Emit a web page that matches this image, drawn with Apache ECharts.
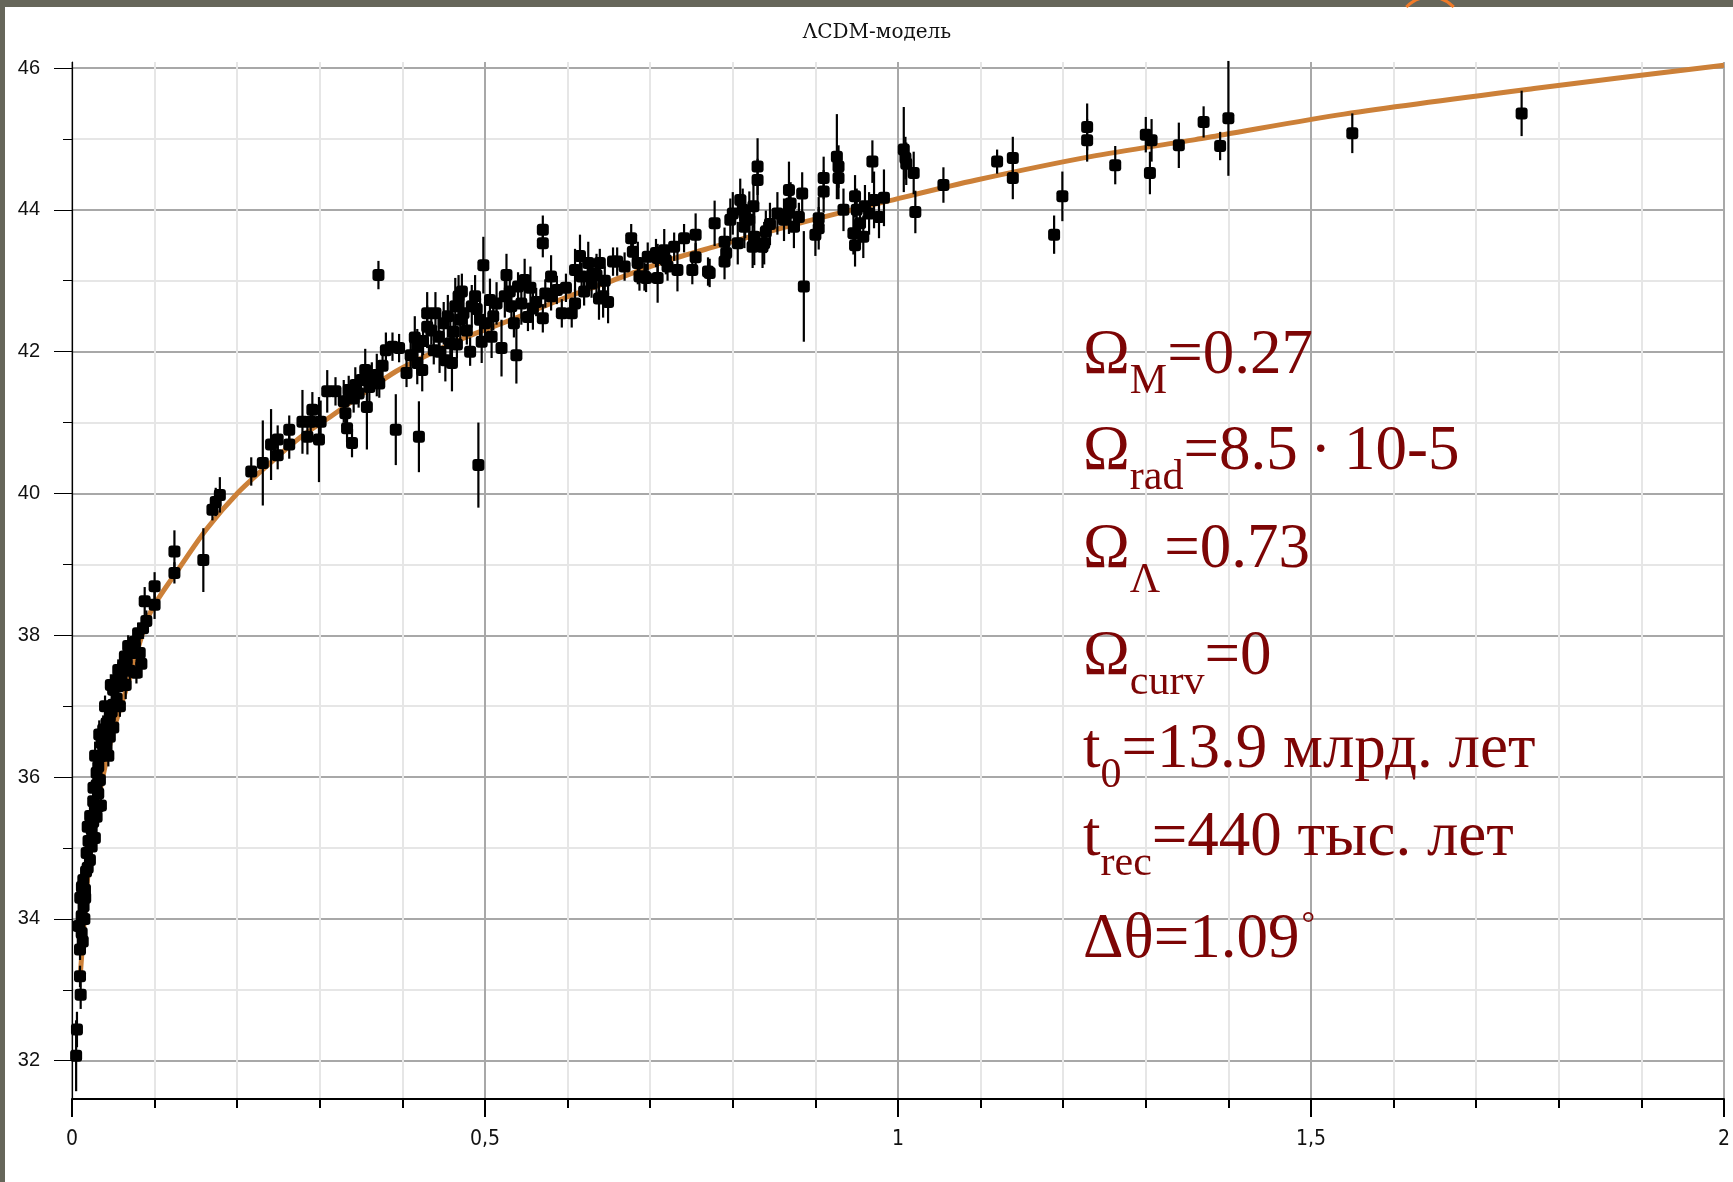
<!DOCTYPE html>
<html>
<head>
<meta charset="utf-8">
<title>ΛCDM-модель</title>
<script src="https://cdn.jsdelivr.net/npm/echarts@6/dist/echarts.min.js"></script>
<style>
  html, body { margin: 0; padding: 0; background: #fff; }
  #main { width: 1733px; height: 1182px; }
</style>
</head>
<body>
<div id="main"></div>
<script>
// y tick values (labelled every 2, light lines on the odd ones)
var yMajorTicks = [32, 34, 36, 38, 40, 42, 44, 46];
var yMinorTicks = [33, 35, 37, 39, 41, 43, 45];

// model curve: redshift / distance modulus
var curveZ  = [0.01, 0.015, 0.02, 0.03, 0.04, 0.05, 0.07, 0.094, 0.13, 0.163, 0.2, 0.24, 0.275, 0.315, 0.355, 0.392, 0.43, 0.476, 0.532, 0.597, 0.649, 0.717, 0.778, 0.858, 0.92, 0.99, 1.095, 1.233, 1.36, 1.394, 1.54, 1.77, 2.0];
var curveMu = [33.2, 34.0, 34.7, 35.55, 36.15, 36.65, 37.4, 38.3, 38.95, 39.5, 40.0, 40.43, 40.78, 41.1, 41.43, 41.72, 41.95, 42.2, 42.45, 42.76, 42.98, 43.27, 43.48, 43.74, 43.93, 44.13, 44.42, 44.75, 44.99, 45.06, 45.35, 45.71, 46.04];

// supernovae: [z, mu, error]
var lowZ = [
  [0.005, 32.07, 0.5], [0.006, 32.44, 0.25], [0.0105, 32.93, 0.2], [0.0097, 33.19, 0.15], [0.0097, 33.57, 0.15],
  [0.013, 33.68, 0.15], [0.0117, 33.8, 0.2], [0.0117, 34.04, 0.15], [0.014, 34.18, 0.2], [0.016, 34.3, 0.15],
  [0.0157, 34.41, 0.15], [0.0137, 34.55, 0.2], [0.017, 34.67, 0.15], [0.019, 34.72, 0.15], [0.0217, 34.83, 0.15],
  [0.0177, 34.93, 0.2], [0.0238, 35.02, 0.15], [0.0277, 35.14, 0.15], [0.0238, 35.26, 0.15], [0.0257, 35.37, 0.2],
  [0.0298, 35.44, 0.15], [0.0277, 35.54, 0.15], [0.0318, 35.59, 0.2], [0.0257, 35.66, 0.15], [0.0318, 35.77, 0.15],
  [0.0298, 35.89, 0.15], [0.0338, 35.96, 0.2], [0.0298, 36.06, 0.15], [0.0318, 36.15, 0.15], [0.0338, 36.29, 0.15],
  [0.0378, 36.38, 0.15], [0.0358, 36.48, 0.2], [0.0418, 36.43, 0.15], [0.0398, 36.62, 0.15], [0.0458, 36.57, 0.15],
  [0.0378, 36.67, 0.2], [0.0418, 36.76, 0.15], [0.0458, 36.85, 0.15], [0.048, 36.92, 0.15], [0.0498, 37.02, 0.15],
  [0.054, 37.11, 0.15], [0.0498, 37.23, 0.15], [0.056, 37.28, 0.15], [0.054, 37.37, 0.15], [0.06, 37.42, 0.2],
  [0.056, 37.51, 0.15], [0.062, 37.56, 0.15], [0.066, 37.61, 0.15], [0.078, 37.47, 0.15], [0.064, 37.7, 0.2],
  [0.072, 37.75, 0.15], [0.072, 37.84, 0.15], [0.076, 37.91, 0.15], [0.08, 38.03, 0.15], [0.086, 38.1, 0.15],
  [0.088, 38.48, 0.2], [0.1, 38.69, 0.2], [0.1, 38.43, 0.2],
  [0.008, 33.9, 0.2], [0.01, 34.3, 0.2], [0.012, 34.45, 0.15], [0.015, 34.0, 0.2], [0.02, 35.1, 0.15],
  [0.022, 35.45, 0.15], [0.019, 35.3, 0.15], [0.026, 35.85, 0.15], [0.035, 35.6, 0.2], [0.028, 36.3, 0.2],
  [0.033, 36.6, 0.2], [0.044, 36.3, 0.15], [0.04, 37.0, 0.15], [0.047, 37.3, 0.15], [0.05, 36.7, 0.2],
  [0.058, 37.0, 0.15], [0.065, 37.3, 0.2], [0.07, 37.5, 0.2], [0.068, 37.85, 0.15], [0.082, 37.75, 0.15],
  [0.084, 37.6, 0.2], [0.09, 38.2, 0.15]
];
var midZ = [
  [0.124, 39.18, 0.3], [0.124, 38.88, 0.15], [0.159, 39.06, 0.45], [0.17, 39.77, 0.15], [0.179, 39.98, 0.25],
  [0.174, 39.88, 0.2], [0.217, 40.31, 0.2], [0.231, 40.43, 0.6], [0.241, 40.69, 0.5], [0.249, 40.54, 0.2],
  [0.249, 40.76, 0.2], [0.263, 40.69, 0.2], [0.263, 40.9, 0.2], [0.279, 41.01, 0.45], [0.285, 40.8, 0.25],
  [0.289, 41.01, 0.2], [0.291, 41.18, 0.25], [0.299, 40.76, 0.6], [0.301, 41.01, 0.3],
  [0.309, 41.44, 0.3], [0.319, 41.44, 0.2], [0.331, 41.13, 0.2], [0.333, 40.92, 0.2], [0.339, 40.71, 0.2],
  [0.335, 41.46, 0.2], [0.343, 41.53, 0.25], [0.341, 41.34, 0.2], [0.347, 41.41, 0.2], [0.355, 41.74, 0.3],
  [0.357, 41.22, 0.6], [0.363, 41.65, 0.2], [0.369, 41.67, 0.3], [0.371, 43.08, 0.2], [0.38, 42.02, 0.25],
  [0.388, 42.07, 0.2], [0.392, 40.9, 0.5], [0.396, 42.05, 0.2], [0.329, 41.3, 0.3], [0.35, 41.6, 0.2],
  [0.36, 41.5, 0.3], [0.372, 41.55, 0.2], [0.376, 41.8, 0.2],
  [0.418, 42.07, 0.25], [0.418, 41.84, 0.3], [0.424, 41.74, 0.3], [0.42, 40.8, 0.5], [0.43, 42.54, 0.3],
  [0.43, 42.35, 0.3], [0.44, 42.54, 0.3], [0.438, 42.02, 0.2], [0.444, 42.21, 0.25], [0.45, 42.4, 0.3],
  [0.452, 41.88, 0.3], [0.46, 41.84, 0.4], [0.458, 42.12, 0.3], [0.462, 42.28, 0.25], [0.464, 42.64, 0.4],
  [0.468, 42.78, 0.3], [0.472, 42.85, 0.25], [0.47, 42.45, 0.3], [0.474, 42.54, 0.3], [0.484, 42.64, 0.3],
  [0.488, 42.78, 0.3], [0.498, 43.22, 0.4], [0.494, 42.45, 0.3], [0.496, 42.14, 0.3], [0.492, 40.4, 0.6],
  [0.5, 42.4, 0.3], [0.41, 41.95, 0.2], [0.425, 42.15, 0.2], [0.435, 42.3, 0.2], [0.445, 42.0, 0.3],
  [0.455, 42.5, 0.3], [0.466, 42.1, 0.2], [0.478, 42.3, 0.2], [0.482, 42.0, 0.2], [0.49, 42.6, 0.2],
  [0.405, 41.7, 0.2], [0.415, 42.2, 0.3]
];
var highZ = [
  [0.506, 42.73, 0.3], [0.508, 42.21, 0.3], [0.514, 42.68, 0.3], [0.52, 42.05, 0.4], [0.524, 42.78, 0.3],
  [0.526, 43.08, 0.3], [0.532, 42.64, 0.2], [0.538, 41.95, 0.4], [0.54, 42.92, 0.2], [0.544, 42.68, 0.3],
  [0.548, 43.01, 0.3], [0.552, 42.49, 0.2], [0.558, 42.61, 0.3], [0.57, 43.72, 0.2], [0.57, 43.53, 0.2],
  [0.57, 42.47, 0.2], [0.573, 42.82, 0.2], [0.58, 43.06, 0.3], [0.58, 42.78, 0.2], [0.587, 42.87, 0.2],
  [0.593, 42.54, 0.2], [0.51, 42.5, 0.2], [0.53, 42.85, 0.3], [0.535, 42.4, 0.2], [0.555, 42.9, 0.3],
  [0.562, 42.7, 0.2], [0.598, 42.9, 0.2],
  [0.605, 42.54, 0.2], [0.609, 42.68, 0.2], [0.609, 43.15, 0.3], [0.617, 43.06, 0.2], [0.625, 43.25, 0.3],
  [0.629, 42.96, 0.2], [0.635, 43.08, 0.3], [0.639, 43.25, 0.2], [0.643, 42.78, 0.3], [0.655, 43.27, 0.2],
  [0.669, 43.2, 0.2], [0.677, 43.6, 0.2], [0.679, 43.41, 0.2], [0.685, 43.25, 0.3], [0.693, 43.06, 0.2],
  [0.697, 43.34, 0.2], [0.615, 43.35, 0.3], [0.62, 42.85, 0.2], [0.63, 43.1, 0.2], [0.638, 42.75, 0.3],
  [0.645, 43.0, 0.2], [0.649, 42.7, 0.3], [0.66, 43.27, 0.2], [0.687, 43.06, 0.2], [0.695, 43.04, 0.2],
  [0.709, 43.04, 0.35], [0.707, 43.39, 0.2], [0.709, 43.32, 0.2], [0.717, 43.43, 0.3], [0.719, 43.29, 0.2],
  [0.721, 43.2, 0.2], [0.729, 43.48, 0.2], [0.733, 43.15, 0.3], [0.741, 43.6, 0.2], [0.751, 43.15, 0.2],
  [0.755, 43.65, 0.3], [0.755, 43.33, 0.2], [0.77, 43.13, 0.2], [0.772, 43.11, 0.2], [0.778, 43.81, 0.32],
  [0.79, 43.55, 0.2], [0.79, 43.27, 0.25], [0.797, 43.86, 0.3], [0.792, 43.39, 0.2],
  [0.809, 44.14, 0.3], [0.812, 44.0, 0.3], [0.814, 43.76, 0.3], [0.82, 43.86, 0.4], [0.806, 43.53, 0.3],
  [0.824, 43.48, 0.3], [0.83, 44.61, 0.4], [0.83, 44.42, 0.3], [0.826, 43.62, 0.4], [0.836, 43.48, 0.3],
  [0.84, 43.69, 0.3], [0.838, 43.53, 0.3], [0.854, 43.95, 0.3], [0.862, 43.86, 0.3], [0.868, 44.28, 0.4],
  [0.87, 44.09, 0.3], [0.874, 43.76, 0.3], [0.88, 43.9, 0.2], [0.884, 44.23, 0.3], [0.886, 42.92, 0.78],
  [0.868, 43.96, 0.3], [0.815, 43.9, 0.3], [0.825, 44.05, 0.3], [0.845, 43.8, 0.3], [0.8, 43.95, 0.3],
  [0.9, 43.65, 0.3], [0.904, 43.88, 0.3], [0.904, 43.74, 0.3], [0.91, 44.45, 0.3], [0.91, 44.26, 0.3],
  [0.926, 44.75, 0.6], [0.928, 44.61, 0.3], [0.928, 44.45, 0.3], [0.934, 44.0, 0.3], [0.948, 44.19, 0.3],
  [0.95, 44.0, 0.3], [0.954, 43.81, 0.3], [0.946, 43.67, 0.3], [0.948, 43.5, 0.3], [0.958, 43.62, 0.3],
  [0.969, 44.68, 0.3], [0.971, 44.14, 0.4], [0.977, 43.9, 0.3], [0.983, 44.17, 0.4], [0.96, 44.05, 0.3],
  [0.965, 43.95, 0.3],
  [1.007, 44.85, 0.6], [1.009, 44.73, 0.3], [1.01, 44.65, 0.3], [1.019, 44.52, 0.3], [1.021, 43.97, 0.3],
  [1.055, 44.35, 0.25], [1.12, 44.68, 0.17], [1.139, 44.73, 0.3], [1.139, 44.45, 0.3], [1.189, 43.65, 0.27],
  [1.199, 44.19, 0.35], [1.229, 45.17, 0.33], [1.229, 44.98, 0.3], [1.263, 44.63, 0.27], [1.3, 45.06, 0.25],
  [1.307, 44.98, 0.3], [1.305, 44.52, 0.3], [1.34, 44.91, 0.32], [1.37, 45.24, 0.22], [1.39, 44.9, 0.2],
  [1.4, 45.29, 0.81], [1.55, 45.08, 0.28], [1.755, 45.36, 0.32]
];
var supernovae = lowZ.concat(midZ, highZ);

var paramLines = [
  '{m|Ω}{s|M}{m|=0.27}',
  '{m|Ω}{s|rad}{m|=8.5\u2009·\u200910-5}',
  '{m|Ω}{l|Λ}{m|=0.73}',
  '{m|Ω}{s|curv}{m|=0}',
  '{m|t}{s|0}{m|=13.9 млрд. лет}',
  '{m|t}{s|rec}{m|=440 тыс. лет}',
  '{m|Δθ=1.09}{d|°}'
];
var paramBaselines = [377, 473, 571, 678, 771, 859, 961];

var curveData = curveZ.map(function (z, i) { return [z, curveMu[i]]; });

var tickFont = "'Liberation Sans', Arial, sans-serif";
var narrowFont = "'Liberation Sans Narrow', 'DejaVu Sans Condensed', sans-serif";
var serif = "'Liberation Serif', 'Times New Roman', serif";
var red = '#7d0505';

var graphics = [
  { type: 'rect', shape: { x: 0, y: 0, width: 1733, height: 7 }, style: { fill: '#66665a' }, z: 100 },
  { type: 'rect', shape: { x: 0, y: 0, width: 5, height: 1182 }, style: { fill: '#66665a' }, z: 100 },
  { type: 'arc', shape: { cx: 1430, cy: 30, r: 33, startAngle: 3.913, endAngle: 5.512 },
    style: { stroke: '#f07a28', lineWidth: 3, fill: null }, z: 101 },
  { type: 'text', x: 877, y: 33, z: 50,
    style: { text: 'ΛCDM-модель', align: 'center', verticalAlign: 'middle',
             font: '20px "DejaVu Serif", serif', fill: '#111' } }
];
paramLines.forEach(function (txt, i) {
  graphics.push({
    type: 'text', x: 1083, y: paramBaselines[i] - 21, z: 50,
    style: {
      text: txt, align: 'left', verticalAlign: 'middle',
      rich: {
        m: { fontFamily: serif, fontSize: 63, fill: red, color: red },
        s: { fontFamily: serif, fontSize: 42, fill: red, color: red, padding: [52, 0, 0, 0] },
        l: { fontFamily: serif, fontSize: 42, fill: red, color: red, padding: [62, 4, 0, 0] },
        d: { fontFamily: serif, fontSize: 34, fill: red, color: red, padding: [0, 0, 30, 2] }
      }
    }
  });
});

var chart = echarts.init(document.getElementById('main'));
var option = {
  backgroundColor: '#ffffff',
  animation: false,
  grid: { left: 72, right: 4, top: 62, bottom: 83 },
  xAxis: {
    type: 'value', position: 'bottom', min: 0, max: 2, interval: 0.5,
    axisLine: { show: true, onZero: false, lineStyle: { color: '#000', width: 2 } },
    axisTick: { show: true, length: 18, lineStyle: { color: '#000', width: 2 } },
    minorTick: { show: true, splitNumber: 5, length: 9, lineStyle: { color: '#000', width: 2 } },
    axisLabel: {
      margin: 30, fontFamily: narrowFont, fontSize: 21, color: '#111',
      formatter: function (v) { return String(v).replace('.', ','); }
    },
    splitLine: { show: true, lineStyle: { color: '#a8a8a8', width: 2 } },
    minorSplitLine: { show: true, lineStyle: { color: '#e6e6e6', width: 2 } }
  },
  yAxis: [
    {
      type: 'value', position: 'left', min: 31.46, max: 46.085,
      axisLine: { show: false },
      axisTick: { show: true, length: 9, customValues: yMinorTicks, lineStyle: { color: '#000', width: 1 } },
      axisLabel: { show: false },
      splitLine: { show: true, lineStyle: { color: '#e6e6e6', width: 2 } }
    },
    {
      type: 'value', position: 'left', min: 31.46, max: 46.085,
      axisLine: { show: true, onZero: false, lineStyle: { color: '#000', width: 1.2 } },
      axisTick: { show: true, length: 18, customValues: yMajorTicks, lineStyle: { color: '#000', width: 1 } },
      axisLabel: { margin: 32, customValues: yMajorTicks, fontFamily: tickFont, fontSize: 20, color: '#111' },
      splitLine: { show: true, lineStyle: { color: '#a8a8a8', width: 2 } }
    }
  ],
  graphic: graphics,
  series: [
    {
      type: 'line', yAxisIndex: 1, data: curveData, smooth: 0.3,
      showSymbol: false, symbol: 'none', silent: true, z: 2,
      lineStyle: { color: '#cc8038', width: 5 }
    },
    {
      type: 'custom', yAxisIndex: 1, data: supernovae, encode: { x: 0, y: 1 }, z: 3,
      renderItem: function (params, api) {
        var z = api.value(0), mu = api.value(1), e = api.value(2);
        var p1 = api.coord([z, mu + e]);
        var p2 = api.coord([z, mu - e]);
        return {
          type: 'line',
          shape: { x1: p1[0], y1: p1[1], x2: p2[0], y2: p2[1] },
          style: { stroke: '#000', lineWidth: 2.2 }
        };
      }
    },
    {
      type: 'scatter', yAxisIndex: 1, data: supernovae, encode: { x: 0, y: 1 }, z: 4,
      symbol: 'roundRect', symbolSize: 12, itemStyle: { color: '#000', opacity: 1 }
    }
  ]
};
chart.setOption(option);
</script>
</body>
</html>
